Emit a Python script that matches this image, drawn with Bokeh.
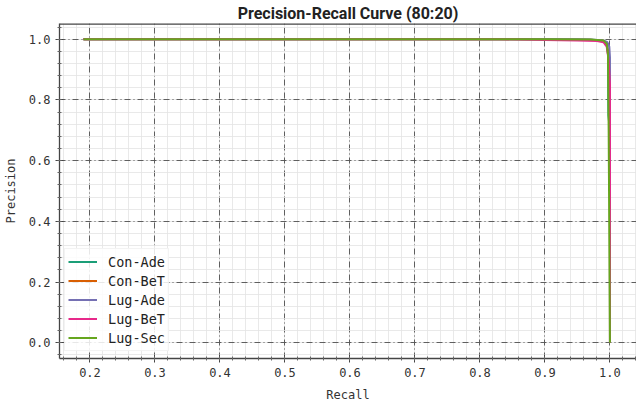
from bokeh.plotting import figure
from bokeh.models import Range1d, Span, Legend, LegendItem, SingleIntervalTicker, PrintfTickFormatter
from bokeh.embed import file_html
from bokeh.resources import INLINE

# ---- data ----
series_names = ["Con-Ade", "Con-BeT", "Lug-Ade", "Lug-BeT", "Lug-Sec"]
series_colors = ["#1b9e77", "#d95f02", "#7570b3", "#e7298a", "#66a61e"]

recall_con_ade = [0.19, 0.85, 0.95, 0.98, 0.99, 0.995, 0.997, 0.9975, 1.0, 1.0]
precision_con_ade = [1.0, 1.0, 0.999, 0.997, 0.994, 0.985, 0.95, 0.75, 0.70, 0.0]

recall_con_bet = [0.19, 0.90, 0.97, 0.99, 0.995, 0.998, 1.0, 1.0]
precision_con_bet = [1.0, 1.0, 0.998, 0.995, 0.985, 0.95, 0.80, 0.0]

recall_lug_ade = [0.19, 0.90, 0.97, 0.99, 0.996, 0.999, 1.0, 1.0]
precision_lug_ade = [1.0, 1.0, 0.999, 0.996, 0.99, 0.975, 0.94, 0.0]

recall_lug_bet = [0.19, 0.83, 0.90, 0.95, 0.98, 0.99, 0.995, 0.998, 1.0, 1.0]
precision_lug_bet = [1.0, 1.0, 0.997, 0.996, 0.994, 0.99, 0.975, 0.93, 0.85, 0.0]

recall_lug_sec = [0.19, 0.90, 0.97, 0.99, 0.995, 0.997, 0.998, 1.0]
precision_lug_sec = [1.0, 1.0, 0.999, 0.996, 0.985, 0.95, 0.70, 0.0]

x_ticks_interval = 0.1
y_ticks_interval = 0.2

recalls = [recall_con_ade, recall_con_bet, recall_lug_ade, recall_lug_bet, recall_lug_sec]
precisions = [precision_con_ade, precision_con_bet, precision_lug_ade, precision_lug_bet, precision_lug_sec]

MONO = "DejaVu Sans Mono"

p = figure(width=636, height=404, output_backend="svg", toolbar_location=None,
           x_range=Range1d(0.15312, 1.04083), y_range=Range1d(-0.0516, 1.0516),
           min_border_left=49, min_border_right=0, min_border_top=18,
           min_border_bottom=44)

p.title.text = "Precision-Recall Curve (80:20)"
p.title.align = "center"
p.title.text_font = "Roboto"
p.title.text_font_size = "16px"
p.title.text_font_style = "bold"
p.title.text_color = "#222222"
p.title.standoff = 2
p.title.offset = 0

p.outline_line_color = None
p.background_fill_color = "white"
p.border_fill_color = "white"

p.xaxis.ticker = SingleIntervalTicker(interval=x_ticks_interval, num_minor_ticks=5)
p.yaxis.ticker = SingleIntervalTicker(interval=y_ticks_interval, num_minor_ticks=5)
p.xaxis.formatter = PrintfTickFormatter(format="%.1f")
p.yaxis.formatter = PrintfTickFormatter(format="%.1f")

for ax in (p.xaxis[0], p.yaxis[0]):
    ax.axis_line_color = "#444444"
    ax.axis_line_width = 1.3
    ax.major_tick_line_color = "#444444"
    ax.minor_tick_line_color = "#666666"
    ax.major_tick_in = 4
    ax.major_tick_out = 4
    ax.minor_tick_in = 2
    ax.minor_tick_out = 2
    ax.major_label_standoff = 5
    ax.major_label_text_font = MONO
    ax.major_label_text_font_size = "12px"
    ax.major_label_text_color = "#333333"
    ax.axis_label_text_font = MONO
    ax.axis_label_text_font_size = "12px"
    ax.axis_label_text_font_style = "normal"
    ax.axis_label_text_color = "#333333"

p.xaxis.axis_label = "Recall"
p.yaxis.axis_label = "Precision"
p.xaxis.axis_label_standoff = 8
p.yaxis.axis_label_standoff = 8

for g in (p.xgrid[0], p.ygrid[0]):
    g.grid_line_color = "#333333"
    g.grid_line_alpha = 0.85
    g.grid_line_dash = "6 3 1 3"
    g.grid_line_width = 0.9
    g.minor_grid_line_color = "#e3e3e3"
    g.minor_grid_line_width = 0.8

# top spine
p.add_layout(Span(location=1.0516, dimension="width", line_color="#444444", line_width=2.6))

items = []
for name, col, rx, py in zip(series_names, series_colors, recalls, precisions):
    r = p.line(rx, py, line_color=col, line_width=2)
    items.append(LegendItem(label=name, renderers=[r]))

legend = Legend(items=items, location=(5, 7))
legend.margin = 0
legend.padding = 3
legend.spacing = 0
legend.glyph_width = 29
legend.glyph_height = 19
legend.label_height = 19
legend.label_standoff = 11
legend.label_text_font = MONO
legend.label_text_font_size = "13.5px"
legend.label_text_color = "#222222"
legend.border_line_color = "#e8e8e8"
legend.background_fill_alpha = 0.85
p.add_layout(legend, "center")

open("out.html", "w").write(file_html(p, INLINE))
